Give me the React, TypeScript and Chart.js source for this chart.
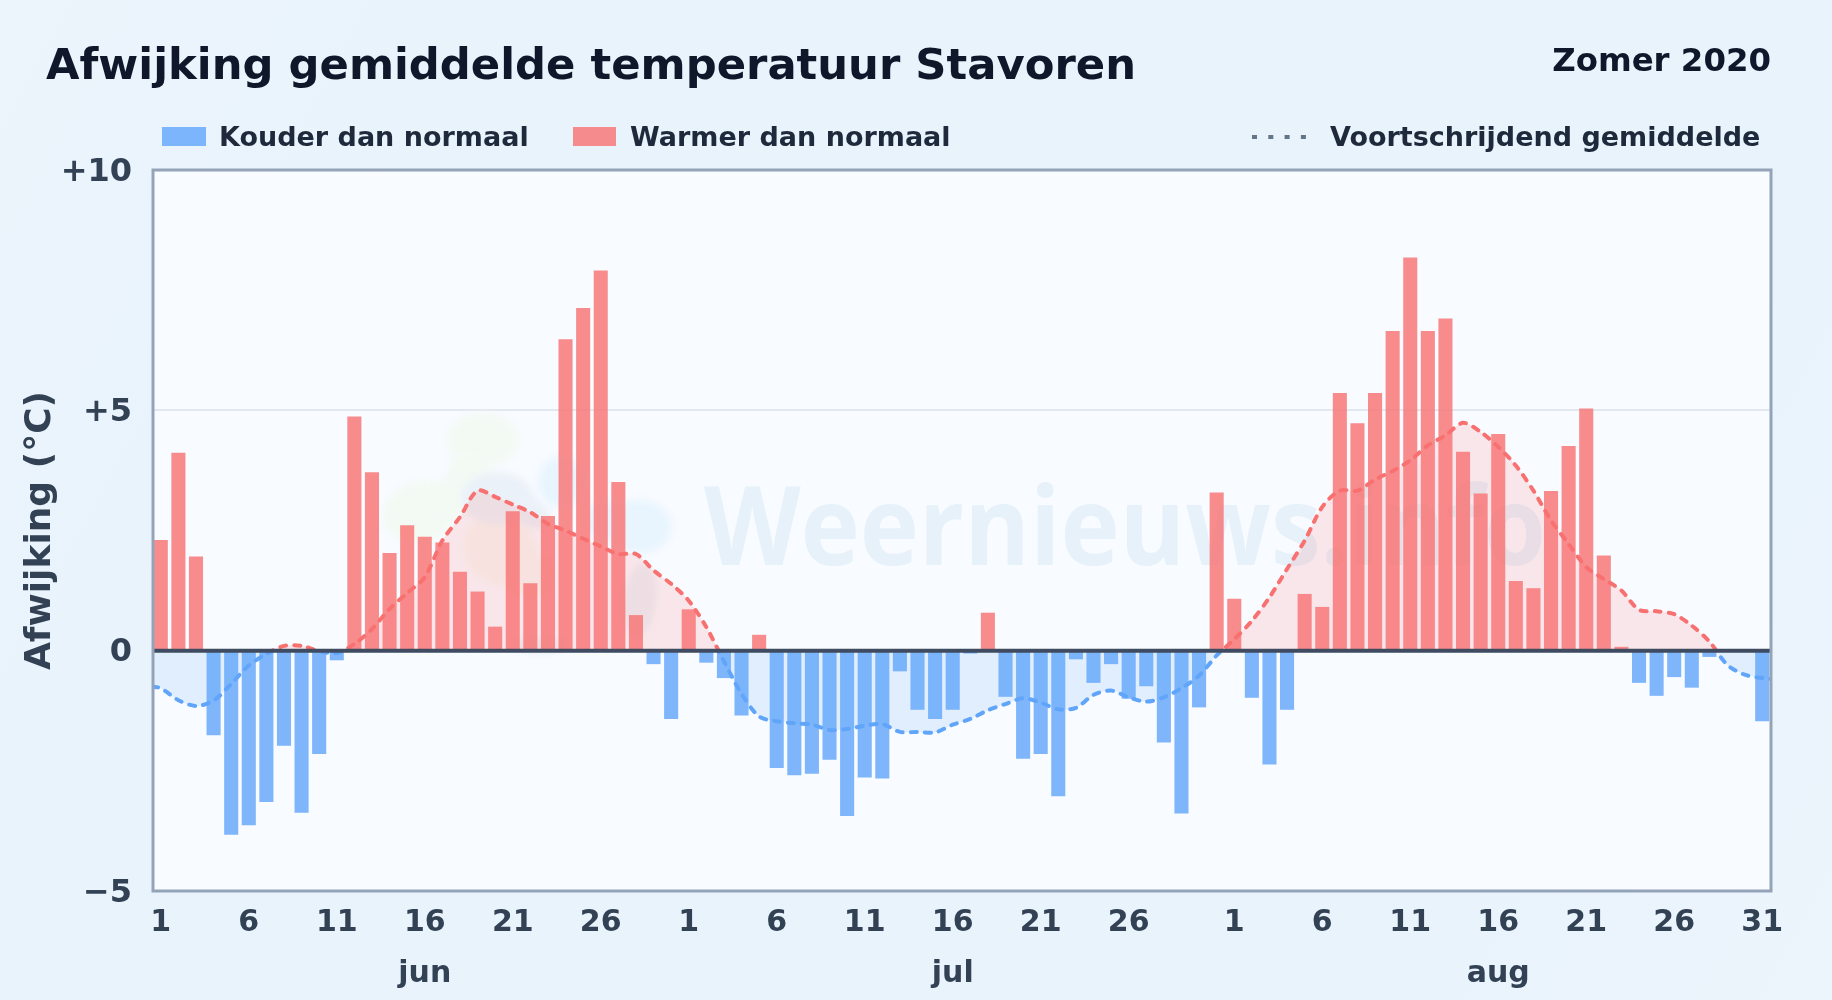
import React, { useEffect, useRef } from "react";
import { Chart, registerables } from "chart.js";

Chart.register(...registerables);

const FONT = '"DejaVu Sans", sans-serif';

const junDays = [1,2,3,4,5,6,7,8,9,10,11,12,13,14,15,16,17,18,19,20,21,22,23,24,25,26,27,28,29,30];
const julDays = [1,2,3,4,5,6,7,8,9,10,11,12,13,14,15,16,17,18,19,20,21,22,23,24,25,26,27,28,29,30,31];
const augDays = [1,2,3,4,5,6,7,8,9,10,11,12,13,14,15,16,17,18,19,20,21,22,23,24,25,26,27,28,29,30,31];
const categories = [...junDays, ...julDays, ...augDays].map(String);

const tickDaysJun = [1,6,11,16,21,26];
const tickDaysJul = [1,6,11,16,21,26];
const tickDaysAug = [1,6,11,16,21,26,31];
const monthNames = ["jun", "jul", "aug"];
const monthLabelDay = 16;

const junDeviation = [2.30,4.12,1.96,-1.76,-3.83,-3.63,-3.15,-1.98,-3.37,-2.15,-0.20,4.87,3.71,2.03,2.61,2.37,2.25,1.64,1.23,0.50,2.90,1.40,2.80,6.48,7.13,7.91,3.51,0.74,-0.28,-1.42];
const julDeviation = [0.86,-0.25,-0.57,-1.35,0.33,-2.44,-2.59,-2.56,-2.27,-3.44,-2.64,-2.66,-0.43,-1.23,-1.42,-1.23,-0.06,0.79,-0.96,-2.25,-2.15,-3.03,-0.18,-0.67,-0.28,-1.00,-0.74,-1.91,-3.39,-1.18,3.29];
const augDeviation = [1.08,-0.98,-2.37,-1.23,1.18,0.91,5.36,4.73,5.36,6.65,8.18,6.65,6.91,4.14,3.27,4.51,1.45,1.30,3.32,4.26,5.04,1.98,0.08,-0.67,-0.94,-0.55,-0.77,-0.13,null,null,-1.47];
const deviation = [...junDeviation, ...julDeviation, ...augDeviation];

const junAverage = [-0.78,-1.03,-1.15,-1.04,-0.69,-0.31,-0.07,0.10,0.10,-0.01,-0.05,0.14,0.45,0.87,1.20,1.53,2.29,2.78,3.33,3.20,3.04,2.88,2.64,2.50,2.33,2.17,2.01,2.01,1.67,1.39];
const julAverage = [1.04,0.49,-0.22,-0.90,-1.37,-1.47,-1.51,-1.54,-1.65,-1.63,-1.56,-1.53,-1.69,-1.69,-1.70,-1.54,-1.42,-1.24,-1.11,-0.99,-1.08,-1.22,-1.19,-0.92,-0.83,-0.97,-1.06,-0.97,-0.78,-0.52,-0.10];
const augAverage = [0.24,0.62,1.11,1.70,2.29,2.99,3.33,3.33,3.56,3.74,3.96,4.27,4.48,4.74,4.55,4.24,3.85,3.33,2.71,2.22,1.74,1.49,1.25,0.85,0.82,0.76,0.52,0.19,-0.29,-0.50,-0.57];
const averageStart = -0.75;
const averageEnd = -0.59;
const average = [...junAverage, ...julAverage, ...augAverage];

const BLUE_BAR = "rgba(96,165,250,0.8)";
const RED_BAR = "rgba(248,113,113,0.8)";
const BLUE = "#60a5fa";
const RED = "#f87171";

const monthOffsets = [0, junDays.length, junDays.length + julDays.length];
const monthTicks = [tickDaysJun, tickDaysJul, tickDaysAug];

function tickLabel(index: number) {
  const m = index >= monthOffsets[2] ? 2 : index >= monthOffsets[1] ? 1 : 0;
  const day = index - monthOffsets[m] + 1;
  if (!monthTicks[m].includes(day)) return "";
  return day === monthLabelDay ? [String(day), monthNames[m]] : String(day);
}

const decor = {
  id: "decor",
  beforeDraw(chart: any) {
    const { ctx, width, height, chartArea: a } = chart;
    ctx.save();
    const g = ctx.createLinearGradient(0, 0, width, height);
    g.addColorStop(0, "#ecf5fc");
    g.addColorStop(0.2, "#e9f3fc");
    g.addColorStop(0.8, "#e9f3fc");
    g.addColorStop(1, "#ecf5fc");
    ctx.fillStyle = g;
    ctx.fillRect(0, 0, width, height);
    ctx.fillStyle = "#f8fbff";
    ctx.fillRect(a.left + 1, a.top, a.right - a.left - 1, a.bottom - a.top);
    ctx.restore();
  },
  beforeDatasetsDraw(chart: any) {
    const { ctx } = chart;
    ctx.save();
    const blob = (x: number, y: number, rx: number, ry: number, c: string, rot = 0) => {
      ctx.fillStyle = c;
      ctx.beginPath();
      ctx.ellipse(x, y, rx, ry, rot, 0, Math.PI * 2);
      ctx.fill();
    };
    ctx.filter = "blur(3px)";
    const green = "#f3faf4";
    blob(483, 440, 36, 27, green);
    blob(470, 475, 22, 24, green);
    blob(420, 512, 38, 30, green, -0.3);
    blob(455, 495, 25, 20, green, -0.5);
    const orange = "#f7f6f2";
    blob(500, 550, 38, 34, orange, 0.5);
    blob(530, 575, 24, 22, orange);
    const blue = "#ebf1f8";
    blob(497, 498, 36, 26, blue);
    blob(530, 512, 22, 14, blue, 0.5);
    blob(640, 600, 16, 36, blue, 0.1);
    blob(540, 646, 26, 8, blue);
    const sky = "#e9f5fe";
    blob(562, 482, 24, 26, sky);
    blob(640, 527, 32, 27, sky);
    blob(610, 520, 25, 20, sky);
    ctx.filter = "none";
    ctx.translate(704, 565);
    ctx.scale(1, 1.1);
    ctx.font = `700 100px "Open Sans", "Noto Sans", sans-serif`;
    ctx.fillStyle = "#e7f1fa";
    ctx.textAlign = "left";
    ctx.textBaseline = "alphabetic";
    ctx.fillText("Weernieuws.info", 0, 0);
    ctx.restore();
  },
  afterDatasetsDraw(chart: any) {
    const { ctx, chartArea: a, scales } = chart;
    const y0 = scales.y.getPixelForValue(0);
    ctx.save();
    ctx.strokeStyle = "#3f4b60";
    ctx.lineWidth = 4;
    ctx.beginPath();
    ctx.moveTo(a.left + 1, y0);
    ctx.lineTo(a.right, y0);
    ctx.stroke();
    ctx.strokeStyle = "#94a3b8";
    ctx.lineWidth = 3;
    ctx.strokeRect(a.left + 1, a.top, a.right - a.left - 1, a.bottom - a.top);
    ctx.restore();
  },
  afterDraw(chart: any) {
    const { ctx } = chart;
    ctx.save();
    ctx.textBaseline = "alphabetic";
    ctx.textAlign = "left";
    ctx.fillStyle = "#0f172a";
    ctx.font = `bold 43.3px ${FONT}`;
    ctx.fillText("Afwijking gemiddelde temperatuur Stavoren", 46, 79);
    ctx.textAlign = "right";
    ctx.font = `bold 32.4px ${FONT}`;
    ctx.fillText("Zomer 2020", 1771, 71);

    ctx.textAlign = "left";
    ctx.fillStyle = BLUE_BAR;
    ctx.fillRect(162, 127, 44, 19);
    ctx.fillStyle = RED_BAR;
    ctx.fillRect(573, 127, 43, 19);
    ctx.strokeStyle = "#64748b";
    ctx.lineWidth = 4;
    ctx.setLineDash([5, 11.3]);
    ctx.beginPath();
    ctx.moveTo(1252, 137);
    ctx.lineTo(1307, 137);
    ctx.stroke();
    ctx.setLineDash([]);
    ctx.fillStyle = "#1e293b";
    ctx.font = `bold 27px ${FONT}`;
    ctx.fillText("Kouder dan normaal", 219, 146);
    ctx.fillText("Warmer dan normaal", 630, 146);
    ctx.fillText("Voortschrijdend gemiddelde", 1330, 146);
    ctx.restore();
  },
};

function lineGradient(context: any) {
  const { chart } = context;
  const { chartArea: a, scales } = chart;
  if (!a) return RED;
  const g = chart.ctx.createLinearGradient(0, a.top, 0, a.bottom);
  const f = (scales.y.getPixelForValue(0) - a.top) / (a.bottom - a.top);
  g.addColorStop(0, RED);
  g.addColorStop(f, RED);
  g.addColorStop(f, BLUE);
  g.addColorStop(1, BLUE);
  return g;
}

export default function App() {
  const ref = useRef<HTMLCanvasElement>(null);
  useEffect(() => {
    document.body.style.margin = "0";
    const chart = new Chart(ref.current as HTMLCanvasElement, {
      type: "bar",
      data: {
        labels: categories,
        datasets: [
          {
            type: "bar",
            label: "Afwijking",
            data: deviation,
            backgroundColor: (c: any) => (c.raw < 0 ? BLUE_BAR : RED_BAR),
            barPercentage: 0.8,
            categoryPercentage: 1,
            grouped: false,
            order: 1,
          },
          {
            type: "line",
            label: "Voortschrijdend gemiddelde",
            xAxisID: "x2",
            data: [
              { x: -0.5, y: averageStart },
              ...average.map((y, x) => ({ x, y })),
              { x: 91.5, y: averageEnd },
            ],
            borderColor: lineGradient,
            borderWidth: 4,
            borderDash: [6, 8],
            borderCapStyle: "round",
            pointRadius: 0,
            tension: 0.3,
            fill: {
              target: { value: 0 },
              above: "rgba(248,113,113,0.15)",
              below: "rgba(96,165,250,0.15)",
            },
            order: 2,
          },
        ],
      } as any,
      options: {
        responsive: false,
        animation: false,
        devicePixelRatio: 1,
        layout: { padding: { left: 0, right: 61, top: 170, bottom: 0 } },
        plugins: { legend: { display: false }, title: { display: false }, tooltip: { enabled: false } },
        scales: {
          x: {
            type: "category",
            offset: true,
            grid: { display: false, drawTicks: false },
            border: { display: false },
            afterFit: (s: any) => { s.height = 109; },
            ticks: {
              autoSkip: false,
              maxRotation: 0,
              minRotation: 0,
              padding: 7,
              color: "#334155",
              font: { family: FONT, weight: "bold", size: 30, lineHeight: "51px" },
              callback: (_v: any, i: number) => tickLabel(i),
            },
          },
          x2: { type: "linear", display: false, min: -0.5, max: 91.5, offset: false },
          y: {
            min: -5,
            max: 10,
            afterFit: (s: any) => { s.width = 152; },
            grid: { color: "#e2e8f0", lineWidth: 2, drawTicks: false },
            border: { display: false },
            title: {
              display: true,
              text: "Afwijking (°C)",
              color: "#334155",
              font: { family: FONT, weight: "bold", size: 36 },
              padding: { top: 19, bottom: 0 },
            },
            ticks: {
              stepSize: 5,
              padding: 20,
              color: "#334155",
              font: { family: FONT, weight: "bold", size: 32, lineHeight: "5px" },
              callback: (v: any) => ["", v > 0 ? `+${v}` : v < 0 ? `\u2212${Math.abs(v)}` : "0"],
            },
          },
        },
      } as any,
      plugins: [decor],
    } as any);
    return () => chart.destroy();
  }, []);
  return <canvas ref={ref} width={1832} height={1000} style={{ display: "block", width: 1832, height: 1000 }} />;
}
